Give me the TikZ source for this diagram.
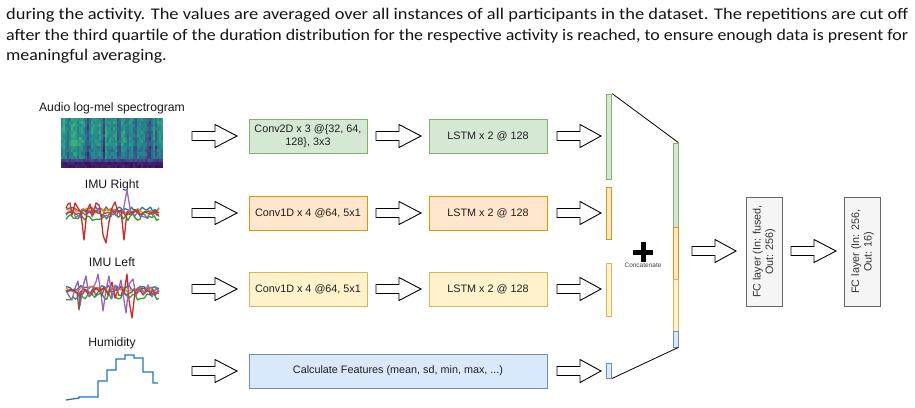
\documentclass[tikz,border=0pt]{standalone}
\usepackage{fontspec}
\setmainfont{Carlito}
\newfontfamily\arialf{Liberation Sans}
\usepackage{graphicx}
\definecolor{gfill}{RGB}{213,232,212}\definecolor{gline}{RGB}{130,179,102}
\definecolor{ofill}{RGB}{255,230,204}\definecolor{oline}{RGB}{215,155,0}
\definecolor{yfill}{RGB}{255,242,204}\definecolor{yline}{RGB}{214,182,86}
\definecolor{bfill}{RGB}{218,232,252}\definecolor{bline}{RGB}{108,142,191}
\definecolor{fcfill}{RGB}{245,245,245}\definecolor{fcline}{RGB}{102,102,102}
\definecolor{fctext}{RGB}{51,51,51}
\definecolor{vir0}{RGB}{68,1,84}\definecolor{vir1}{RGB}{59,82,139}
\definecolor{vir2}{RGB}{33,145,140}\definecolor{vir3}{RGB}{94,201,98}
\definecolor{vir4}{RGB}{253,231,37}
\definecolor{tabblue}{RGB}{31,119,180}\definecolor{taborange}{RGB}{255,127,14}
\definecolor{tabgreen}{RGB}{44,160,44}\definecolor{tabred}{RGB}{214,39,40}
\definecolor{tabpurple}{RGB}{148,103,189}\definecolor{tabbrown}{RGB}{140,86,75}
\newlength\linelen
\newcommand\fitline[2]{\settowidth\linelen{#2}\pgfmathsetmacro\fitratio{#1/\linelen}\global\let\lastratio\fitratio\scalebox{\fitratio}[1]{#2}}
\newcommand\barrow[3]{\draw[barrowst] (#1,{#3-4.5}) -- ({#1+23},{#3-4.5}) -- ({#1+23},{#3-11.5}) -- (#2,#3) -- ({#1+23},{#3+11.5}) -- ({#1+23},{#3+4.5}) -- (#1,{#3+4.5}) -- cycle;}
\begin{document}
\begin{tikzpicture}[x=1pt,y=-1pt,
  barrowst/.style={draw=black, fill=white, line width=0.9pt, line join=miter},
  blk/.style={draw, line width=0.8pt, minimum width=118pt, minimum height=34pt, inner sep=0pt, align=center,
    font=\arialf\fontsize{10.8}{12.5}\selectfont, text=black!88},
  greenbox/.style={blk, fill=gfill, draw=gline},
  orangebox/.style={blk, fill=ofill, draw=oline},
  yellowbox/.style={blk, fill=yfill, draw=yline},
  bluebox/.style={blk, fill=bfill, draw=bline},
  fcbox/.style={blk, fill=fcfill, draw=fcline, text=fctext, rotate=90, minimum width=109pt, minimum height=36pt},
  bar/.style={draw=#1line, fill=#1fill, line width=0.8pt, minimum width=5.5pt, inner sep=0pt},
  lbl/.style={font=\arialf\fontsize{12.2}{14}\selectfont, text=black!90, inner sep=0pt},
  sig/.style={line width=1.3pt, line join=round}
]
\useasboundingbox (0,0) rectangle (915,407);
% caption text
\node[anchor=base west, inner sep=0pt, font=\fontsize{16.3}{20}\selectfont, text=black!92] (cap1) at (6,19.5)
  {\fitline{902pt}{during the activity. The values are averaged over all instances of all participants in the dataset. The repetitions are cut off}};
\node[anchor=base west, inner sep=0pt, font=\fontsize{16.3}{20}\selectfont, text=black!92] (cap2) at (6,40)
  {\fitline{902pt}{after the third quartile of the duration distribution for the respective activity is reached, to ensure enough data is present for}};
\node[anchor=base west, inner sep=0pt, font=\fontsize{16.3}{20}\selectfont, text=black!92] (cap3) at (6,60.5)
  {\scalebox{\lastratio}[1]{meaningful averaging.}};
% labels
\node[lbl] (la) at (112,108) {Audio log-mel spectrogram};
\node[lbl] (lr) at (112,185) {IMU Right};
\node[lbl] (ll) at (112,262) {IMU Left};
\node[lbl] (lh) at (112,343) {Humidity};
% spectrogram
\pgfmathsetseed{7}
\foreach \c in {0,...,50}{
  \pgfmathsetmacro\cx{61+2*\c}
  \pgfmathsetmacro\base{(\c==13||\c==21||\c==28||\c==37||\c==43||\c==44||\c==47) ? 0.24+0.05*rand :
     ((\c==12||\c==14||\c==20||\c==29||\c==36||\c==42||\c==45||\c==3||\c==33) ? 0.34+0.05*rand : 0.47+0.06*rand)}
  \foreach \r in {0,...,15}{
    \pgfmathsetmacro\v{\r>=14 ? 0.08+0.05*rand : (\r==13 ? 0.22+0.06*rand : min(0.9,max(0.03,\base+0.08*rand+(\r<9 ? 0.04 : -0.03))))}
    \pgfmathtruncatemacro\k{min(3,floor(\v*4))}
    \pgfmathtruncatemacro\kk{\k+1}
    \pgfmathtruncatemacro\p{round(100-(\v*4-\k)*100)}
    \colorlet{cc}{vir\k!\p!vir\kk}
    \fill[cc] (\cx,{118+\r*3.125}) rectangle ++(2.1,3.2);
  }
}
% IMU right
\pgfmathsetseed{11}
\draw[sig,tabblue] plot[domain=66:159,samples=45] (\x,{209+2.5*rand});
\draw[sig,taborange] plot[domain=66:159,samples=45] (\x,{211+2.5*rand});
\draw[sig,tabgreen] plot[domain=66:159,samples=40] (\x,{217+3.5*rand});
\draw[sig,tabpurple] plot[domain=66:159,samples=40] (\x,{214+4*rand});
\draw[sig,tabred] (66,208) -- (68,204) -- (70,203) -- (72,215) -- (75,203) -- (78,208) -- (81,213) -- (84,240) -- (87,210) -- (90,204) -- (93,215) -- (96,203) -- (99,205) -- (101,215) -- (103,235) -- (106,243) -- (109,222) -- (112,208) -- (115,202) -- (118,212) -- (121,210) -- (124,240) -- (127,212) -- (131,214) -- (136,211) -- (140,215) -- (145,212) -- (150,214) -- (155,211) -- (159,213);
\draw[sig,tabpurple] (123,212) -- (127,190) -- (131,214);
\draw[sig,tabbrown] plot[domain=66:159,samples=45] (\x,{213+3*rand});
% IMU left
\pgfmathsetseed{23}
\draw[sig,tabblue] plot[domain=66:159,samples=45] (\x,{288+2.5*rand});
\draw[sig,taborange] plot[domain=66:159,samples=45] (\x,{289+2.5*rand});
\draw[sig,tabgreen] plot[domain=66:159,samples=40] (\x,{296+4*rand});
\draw[sig,tabred] (66,292) -- (72,290) -- (78,294) -- (84,289) -- (90,296) -- (96,288) -- (100,292) -- (104,287) -- (108,295) -- (112,282) -- (115,298) -- (118,290) -- (121,286) -- (124,293) -- (127,274) -- (129,300) -- (132,318) -- (135,292) -- (139,288) -- (143,295) -- (148,290) -- (153,294) -- (159,291);
\draw[sig,tabpurple] (66,290) -- (69,296) -- (72,300) -- (75,288) -- (78,281) -- (80,306) -- (83,286) -- (86,276) -- (89,297) -- (92,290) -- (96,282) -- (98,274) -- (101,294) -- (103,311) -- (106,290) -- (109,276) -- (112,298) -- (115,285) -- (118,291) -- (121,280) -- (124,300) -- (126,313) -- (129,284) -- (133,279) -- (136,296) -- (140,286) -- (144,294) -- (148,285) -- (152,297) -- (156,288) -- (159,292);
\draw[sig,tabbrown] plot[domain=66:159,samples=45] (\x,{292+4*rand});
\draw[sig,tabbrown] (77,292) -- (79,310) -- (81,291);
% humidity
\draw[line width=1.3pt, tabblue] (66,400) -- (79,398) -- (79,397) -- (98,397) -- (98,381) -- (107,381) -- (107,370) -- (116,370) -- (116,359) -- (125,359) -- (125,355) -- (134,355) -- (134,358) -- (143,358) -- (143,372) -- (153,372) -- (153,383) -- (158,383);
% boxes
\node[greenbox] (c1) at (308,136) {Conv2D x 3 @\{32, 64,\\128\}, 3x3};
\node[greenbox] (s1) at (488,136) {LSTM x 2 @ 128};
\node[orangebox] (c2) at (308,213) {Conv1D x 4 @64, 5x1};
\node[orangebox] (s2) at (488,213) {LSTM x 2 @ 128};
\node[yellowbox] (c3) at (308,289) {Conv1D x 4 @64, 5x1};
\node[yellowbox] (s3) at (488,289) {LSTM x 2 @ 128};
\node[bluebox, minimum width=298pt] (cf) at (398,371) {Calculate Features (mean, sd, min, max, ...)};
% block arrows
\foreach \yy in {136,213,289,371}{\barrow{192}{237}{\yy}}
\foreach \yy in {136,213,289}{\barrow{376}{421}{\yy}}
\foreach \yy in {136,213,289,371}{\barrow{557}{601}{\yy}}
\barrow{692}{736}{251}
\barrow{791}{836}{251}
% bars
\node[bar=g, minimum height=85pt] (b1) at (609,136.5) {};
\node[bar=o, minimum height=52pt] (b2) at (609,213) {};
\node[bar=y, minimum height=53pt] (b3) at (609,289.5) {};
\node[bar=b, minimum height=15pt] (b4) at (609,370.5) {};
\node[bar=g, minimum width=5pt, minimum height=84pt] (r1) at (675.5,185) {};
\node[bar=o, minimum width=5pt, minimum height=52pt] (r2) at (675.5,253) {};
\node[bar=y, minimum width=5pt, minimum height=52pt] (r3) at (675.5,305) {};
\node[bar=b, minimum width=5pt, minimum height=16pt] (r4) at (675.5,339) {};
\draw[line width=0.8pt] (b1.north east) -- (r1.north east);
\draw[line width=0.8pt] (b4.south east) -- (r4.south east);
% plus
\fill (633,250) rectangle (653,255);
\fill (640.5,242) rectangle (645.5,262);
\node[font=\arialf\fontsize{6.5}{7}\selectfont, text=black!75, inner sep=0pt] (cc) at (643,265) {Concatenate};
% FC layers
\node[fcbox] (f1) at (764,251.5) {FC layer (In: fused,\\Out: 256)};
\node[fcbox] (f2) at (862.5,251.5) {FC layer (In: 256,\\Out: 16)};
\end{tikzpicture}
\end{document}
